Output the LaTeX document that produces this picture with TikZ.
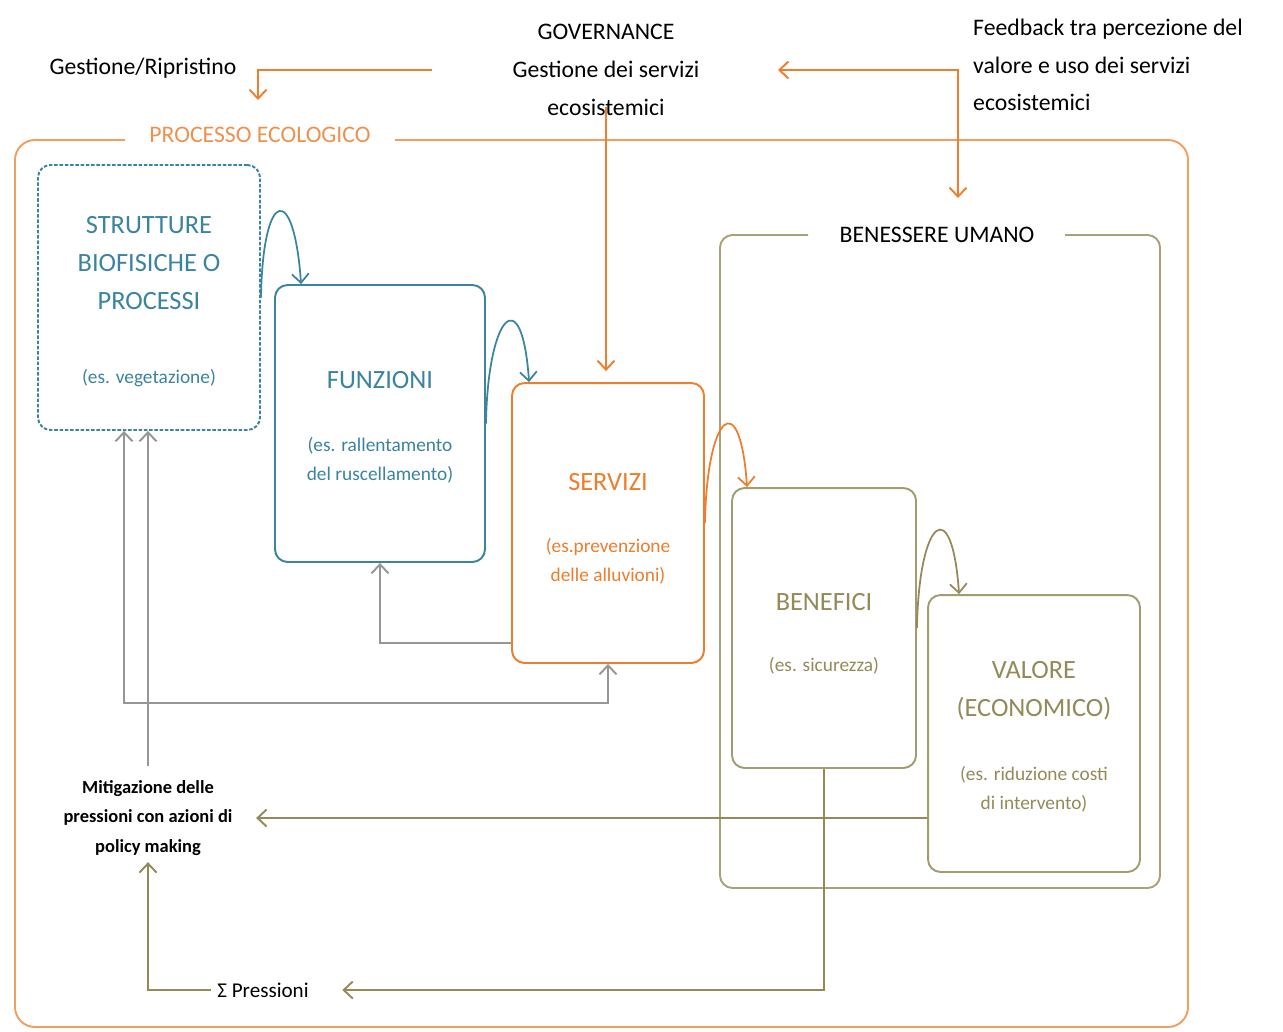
\documentclass[tikz,border=0pt]{standalone}
\usepackage{fontspec}
\setmainfont{Carlito}
\usetikzlibrary{arrows.meta}
\definecolor{ecoorange}{RGB}{236,126,45}
\definecolor{ecoteal}{RGB}{58,132,160}
\definecolor{ecoolive}{RGB}{148,138,88}
\definecolor{ecogray}{RGB}{150,150,150}
\tikzset{
  ecobox/.style={draw, rectangle, rounded corners=.25cm, line width=1.1pt, fill=white},
  ecotitle/.style={font=\fontsize{15}{21.5}\selectfont, align=center},
  ecoex/.style={font=\fontsize{11}{16.5}\selectfont, align=center},
  ecolabel/.style={font=\fontsize{13.5}{21.5}\selectfont, align=center},
  ecowire/.style={line width=1.1pt, >={Straight Barb[length=1.8mm,width=3.4mm]}},
  ecoflow/.style={line width=1pt, >={Straight Barb[length=1.8mm,width=3.4mm]}}
}

\begin{document}
\begin{tikzpicture}[x=0.02cm, y=-0.02cm]
    \useasboundingbox (0,0) rectangle (1283,1031);

    % cornici
    \draw[ecoorange!75, line width=1.1pt, rounded corners=.4cm] (125,140) -- (15,140) -- (15,1027) -- (1188,1027) -- (1188,140) -- (395,140);
    \node[ecolabel, text=ecoorange!85] (proc) at (260,135) {PROCESSO ECOLOGICO};
    \draw[ecoolive!80, line width=1.1pt, rounded corners=.25cm] (808,235) -- (720,235) -- (720,888) -- (1160,888) -- (1160,235) -- (1065,235);
    \node[ecolabel] (benes) at (937,235) {BENESSERE UMANO};

    % blocchi
    \node[ecobox, draw=ecoteal, dash pattern=on 2pt off 1pt, minimum width=4.44cm, minimum height=5.3cm] (strut) at (149,297.5) {};
    \node[ecotitle, text=ecoteal] (strut-t) at (149,263) {STRUTTURE\\BIOFISICHE O\\PROCESSI};
    \node[ecoex, text=ecoteal] (strut-e) at (149,378) {(es. vegetazione)};

    \node[ecobox, draw=ecoteal, minimum width=4.2cm, minimum height=5.54cm] (funz) at (380,423.5) {};
    \node[ecotitle, text=ecoteal] (funz-t) at (380,380) {FUNZIONI};
    \node[ecoex, text=ecoteal] (funz-e) at (380,460) {(es. rallentamento\\del ruscellamento)};

    \node[ecobox, draw=ecoorange, minimum width=3.84cm, minimum height=5.6cm] (serv) at (608,523) {};
    \node[ecotitle, text=ecoorange] (serv-t) at (608,482) {SERVIZI};
    \node[ecoex, text=ecoorange] (serv-e) at (608,561) {(es.prevenzione\\delle alluvioni)};

    \node[ecobox, draw=ecoolive!85, minimum width=3.68cm, minimum height=5.6cm] (bene) at (824,628) {};
    \node[ecotitle, text=ecoolive] (bene-t) at (824,602) {BENEFICI};
    \node[ecoex, text=ecoolive] (bene-e) at (824,666) {(es. sicurezza)};

    \node[ecobox, draw=ecoolive!85, minimum width=4.24cm, minimum height=5.54cm] (valo) at (1034,733.5) {};
    \node[ecotitle, text=ecoolive] (valo-t) at (1034,691) {VALORE\\(ECONOMICO)};
    \node[ecoex, text=ecoolive] (valo-e) at (1034,789) {(es. riduzione costi\\di intervento)};

    % testi esterni
    \node[ecolabel] (gest) at (143,68) {Gestione/Ripristino};
    \node[ecolabel] (gov) at (606,70) {GOVERNANCE\\Gestione dei servizi\\ecosistemici};
    \node[ecolabel, align=left, anchor=west] (feed) at (967,65) {Feedback tra percezione del\\valore e uso dei servizi\\ecosistemici};
    \node[font=\bfseries\fontsize{10.5}{17}\selectfont, align=center] (mitig) at (148,818) {Mitigazione delle\\pressioni con azioni di\\policy making};
    \node[font=\fontsize{12}{14}\selectfont] (press) at (263,990) {Σ Pressioni};

    % governance
    \coordinate (govL) at (432,70);
    \coordinate (gestA) at (258,100);
    \coordinate (govR) at (778,70);
    \coordinate (benA) at (958,198);
    \draw[ecowire, ecoorange, ->] (govL) -| (gestA);
    \draw[ecowire, ecoorange, ->] ([yshift=.3cm]gov.south) -- ([yshift=.22cm]gov.south |- serv.north);
    \draw[ecowire, ecoorange, <->] (govR) -| (benA);

    % catena
    \draw[ecoflow, ecoteal, ->] (strut.east) .. controls +(2,-110) and +(-7,-102) .. ([xshift=.54cm]funz.north west);
    \draw[ecoflow, ecoteal, ->] (funz.east) .. controls +(2,-110) and +(-7,-102) .. ([xshift=.36cm]serv.north west);
    \draw[ecoflow, ecoorange, ->] (serv.east) .. controls +(2,-110) and +(-7,-102) .. ([xshift=.32cm]bene.north west);
    \draw[ecoflow, ecoolive, ->] (bene.east) .. controls +(2,-110) and +(-7,-102) .. ([xshift=.64cm]valo.north west);

    % ritorni
    \coordinate (loopB) at (124,703);
    \draw[ecowire, ecogray, ->] ([yshift=.42cm]serv.south west) -| (funz.south);
    \draw[ecowire, ecogray, <->] ([xshift=-.5cm]strut.south) -- (loopB) -| (serv.south);
    \draw[ecowire, ecogray, ->, shorten <=.15cm] (mitig.north) -- (mitig.north |- strut.south);

    % pressioni
    \draw[ecowire, ecoolive, ->, shorten >=.35cm] (valo.west |- mitig.east) -- (mitig.east);
    \draw[ecowire, ecoolive, ->, shorten >=.55cm] (bene.south) |- (press.east);
    \draw[ecowire, ecoolive, ->] (press.west) -| (mitig.south);
\end{tikzpicture}
\end{document}
